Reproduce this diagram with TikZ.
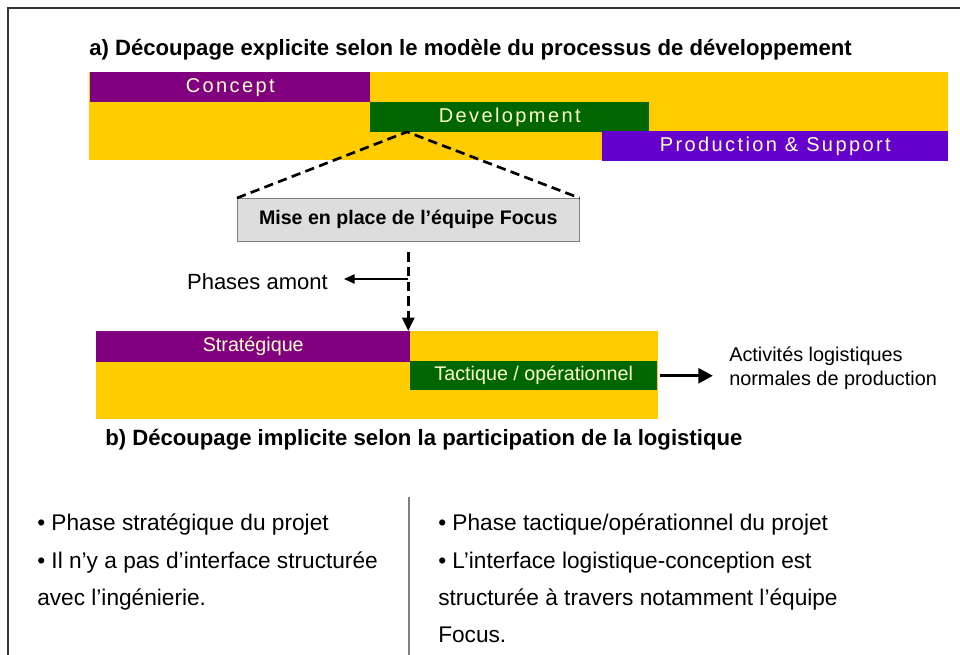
\documentclass[tikz,border=0pt]{standalone}
\usepackage{fontspec}
\setmainfont{Liberation Sans}
\newfontfamily\barfont[LetterSpace=12]{Liberation Sans}
\usetikzlibrary{arrows.meta,positioning,calc}
\definecolor{phaseyellow}{HTML}{FFCC00}
\definecolor{phasepurple}{HTML}{800080}
\definecolor{phasegreen}{HTML}{006600}
\definecolor{phaseviolet}{HTML}{6600CC}
\definecolor{bartext}{HTML}{FFFFCC}
\definecolor{boxgray}{HTML}{DDDDDD}

\begin{document}
\begin{tikzpicture}[x=0.75pt, y=-0.75pt,
  band/.style={rectangle, fill=phaseyellow, anchor=north west, inner sep=0pt,
    minimum height=66pt},
  phase/.style={rectangle, anchor=north west, inner sep=0pt, text=bartext,
    font=\barfont\fontsize{15}{17}\selectfont},
  subphase/.style={phase, font=\fontsize{14.8}{17}\selectfont},
  title/.style={anchor=west, inner sep=0pt, font=\bfseries\fontsize{16.6}{20}\selectfont},
  focusbox/.style={rectangle, draw=gray, fill=boxgray, anchor=north west,
    minimum width=256.5pt, minimum height=32.25pt,
    font=\bfseries\fontsize{14.7}{17}\selectfont},
  dasharrow/.style={-{Triangle[length=10pt,width=9pt]}, line width=2pt,
    dash pattern=on 7pt off 4pt},
  arrow/.style={-{Triangle[length=8pt,width=7pt]}, line width=1.1pt},
  bigarrow/.style={-{Triangle[length=11pt,width=11pt]}, line width=2.6pt},
  bullets/.style={anchor=north west, inner sep=0pt, align=left,
    font=\fontsize{17}{28}\selectfont},
]
\useasboundingbox (0,0) rectangle (960,655);

% Frame
\draw[line width=1pt, black!80] (8,655) |- (960,8);

% a) Development process
\node[title] (ta) at (89,50) {a) Découpage explicite selon le modèle du processus de développement};
\node[band, minimum width=644.25pt] (topband) at (89,72) {};
\node[phase, fill=phasepurple, minimum width=210pt, minimum height=22.5pt] (concept) at (90,72) {Concept};
\node[phase, fill=phasegreen, minimum width=209.25pt, minimum height=22pt] (dev) at (370,102) {Development};
\node[phase, fill=phaseviolet, minimum width=259.5pt, minimum height=22pt] (prod) at (602,131) {Production \& Support};

% Focus team
\node[focusbox] (focus) at (237,198) {Mise en place de l’équipe Focus};
\coordinate (apex) at ($(dev.south west)+(37,0)$);
\draw[line width=2pt, dash pattern=on 7pt off 4pt] (focus.north west) -- (apex) -- (focus.north east);

% b) Logistics participation
\node[band, minimum width=421.5pt] (botband) at (96,331) {};
\node[subphase, fill=phasepurple, minimum width=235.5pt, minimum height=23.25pt] (strat) at (96,331) {Stratégique};
\node[subphase, fill=phasegreen, minimum width=185.25pt, minimum height=21.75pt] (tact) at (410,361) {Tactique / opérationnel};
\node[title] (tb) at (105,440) {b) Découpage implicite selon la participation de la logistique};

\node[anchor=east, inner sep=0pt, font=\fontsize{16.5}{20}\selectfont] (amont) at (328,282) {Phases amont};
\coordinate (branch) at (focus.south |- 0,279);
\draw[dasharrow, shorten <=8pt] (focus.south) -- (focus.south |- botband.north);
\draw[arrow, shorten >=12pt] (branch) -- (branch -| amont.east);

\node[anchor=west, align=left, inner sep=0pt, font=\fontsize{14.9}{18}\selectfont] (normal) at (729,368)
  {Activités logistiques\\normales de production};
\draw[bigarrow, shorten <=2pt, shorten >=12pt] (tact.east) -- (tact.east -| normal.west);

% Bullet lists
\node[bullets] (left) at (37,514) {• Phase stratégique du projet\\• Il n’y a pas d’interface structurée\\avec l’ingénierie.};
\node[bullets] (right) at (438,514) {• Phase tactique/opérationnel du projet\\• L’interface logistique-conception est\\structurée à travers notamment l’équipe\\Focus.};
\draw[gray, line width=0.8pt] (409,497) -- (409,655);

\end{tikzpicture}
\end{document}
